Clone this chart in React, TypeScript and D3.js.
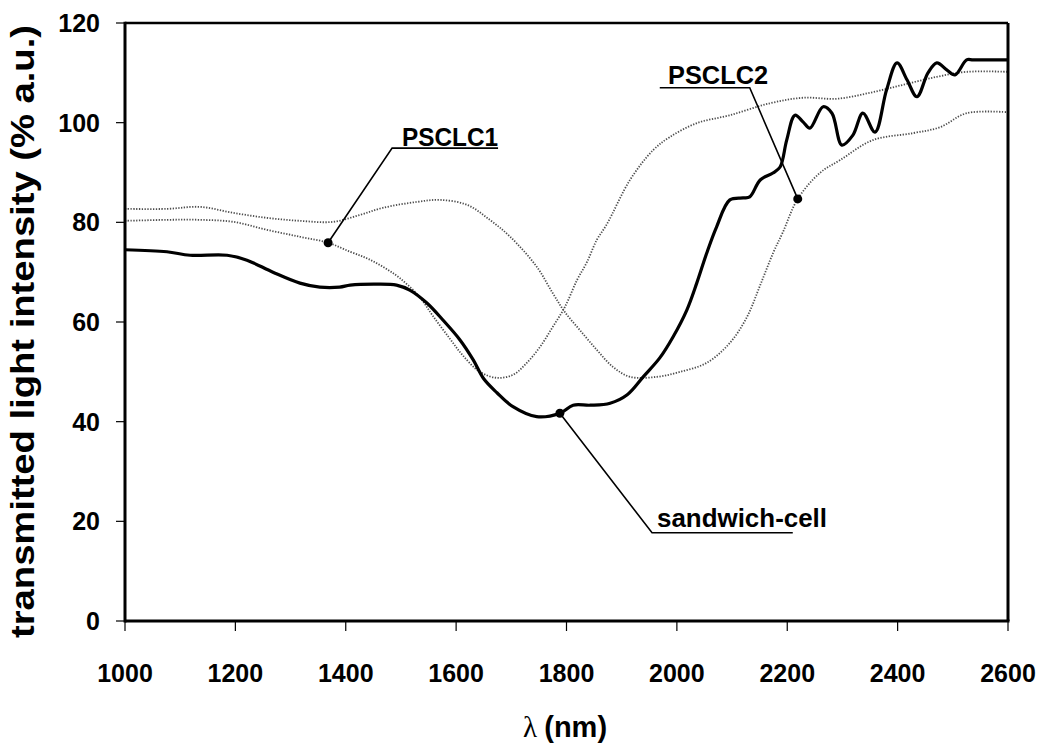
import React, { useEffect, useRef } from 'react';
import * as d3 from 'd3';

// wavelengths (nm) and transmitted intensity (% a.u.)
const sandwichLambda = [1000, 1076, 1118, 1185, 1221, 1268, 1317, 1353, 1389, 1408, 1456, 1492, 1516, 1547, 1576, 1607, 1631, 1650, 1674, 1703, 1746, 1788, 1812, 1843, 1879, 1910, 1939, 1969, 1993, 2018, 2036, 2054, 2072, 2096, 2120, 2132, 2151, 2174, 2187, 2199, 2214, 2229, 2241, 2265, 2281, 2299, 2319, 2337, 2359, 2380, 2399, 2417, 2435, 2455, 2471, 2489, 2504, 2525, 2537, 2600];
const sandwichValue = [74.5, 74.1, 73.4, 73.4, 72.4, 70.0, 67.8, 67.0, 67.0, 67.4, 67.6, 67.4, 66.4, 63.8, 60.4, 56.4, 52.4, 48.6, 45.8, 43.0, 41.0, 41.7, 43.3, 43.3, 43.7, 45.4, 49.0, 52.8, 57.0, 62.4, 67.8, 73.8, 79.1, 84.5, 84.9, 85.1, 88.5, 89.9, 91.1, 96.5, 101.5, 100.1, 98.9, 103.2, 101.9, 95.5, 97.5, 101.9, 98.1, 106.6, 112.0, 108.6, 105.2, 110.0, 112.0, 110.6, 109.6, 112.6, 112.6, 112.6];

const psclc1Lambda = [1000, 1076, 1136, 1196, 1257, 1317, 1368, 1408, 1438, 1467, 1498, 1534, 1558, 1589, 1612, 1643, 1674, 1703, 1728, 1752, 1775, 1797, 1819, 1837, 1855, 1873, 1915, 1957, 1987, 2036, 2096, 2169, 2229, 2290, 2350, 2410, 2471, 2525, 2600];
const psclc1Value = [80.3, 80.5, 80.5, 80.1, 78.5, 77.1, 75.9, 74.1, 72.8, 71.1, 68.8, 65.0, 61.2, 56.6, 53.3, 50.0, 48.8, 49.4, 51.8, 55.0, 59.0, 63.0, 68.4, 72.0, 76.5, 79.6, 88.5, 94.5, 97.1, 99.9, 101.5, 103.9, 105.0, 104.8, 106.0, 107.6, 109.2, 110.2, 110.2];

const psclc2Lambda = [1000, 1076, 1136, 1196, 1257, 1317, 1377, 1426, 1467, 1529, 1571, 1620, 1661, 1698, 1746, 1775, 1797, 1824, 1855, 1884, 1915, 1964, 2006, 2054, 2096, 2127, 2151, 2175, 2192, 2219, 2259, 2296, 2355, 2428, 2477, 2525, 2600];
const psclc2Value = [82.7, 82.7, 83.1, 81.9, 80.9, 80.3, 80.1, 81.5, 82.9, 84.1, 84.5, 83.5, 80.5, 77.1, 71.1, 65.8, 62.0, 58.4, 54.4, 51.0, 49.0, 49.0, 50.0, 51.8, 55.8, 61.0, 67.4, 74.0, 78.0, 84.7, 89.9, 92.5, 96.5, 97.9, 99.1, 101.9, 102.1];

const xTicks = [1000, 1200, 1400, 1600, 1800, 2000, 2200, 2400, 2600];
const yTicks = [0, 20, 40, 60, 80, 100, 120];

// callout labels: text, marker point, elbow, underline end, text start (all in data units)
const labelText = ['PSCLC1', 'PSCLC2', 'sandwich-cell'];
const labelAnchor = [[1368, 75.9], [2219, 84.7], [1788, 41.7]];
const labelElbow = [[1484, 94.9], [2132, 107.0], [1955, 17.7]];
const labelLineEnd = [[1676, 94.9], [1969, 107.0], [2210, 17.7]];
const labelPos = [[1502, 95.3], [1984, 107.7], [1964, 18.9]];
const labelWidth = [96, 100, 170];

const App = () => {
  const svgRef = useRef();

  useEffect(() => {
    const svg = d3.select(svgRef.current);
    svg.selectAll('*').remove();

    const x = d3.scaleLinear().domain([1000, 2600]).range([125, 1008]);
    const y = d3.scaleLinear().domain([0, 120]).range([621, 23]);
    const font = '"Liberation Sans", Arial, Helvetica, sans-serif';

    svg.append('rect').attr('width', 1042).attr('height', 752).attr('fill', '#fff');

    const line = d3.line()
      .x(d => x(d[0]))
      .y(d => y(d[1]))
      .curve(d3.curveCatmullRom.alpha(0.5));

    const series = [
      { lam: psclc2Lambda, val: psclc2Value, dotted: true },
      { lam: psclc1Lambda, val: psclc1Value, dotted: true },
      { lam: sandwichLambda, val: sandwichValue, dotted: false },
    ];

    series.forEach(s => {
      const pts = s.lam.map((l, i) => [l, s.val[i]]);
      const path = svg.append('path')
        .attr('d', line(pts))
        .attr('fill', 'none');
      if (s.dotted) {
        path.attr('stroke', '#4d4d4d')
          .attr('stroke-width', 1.8)
          .attr('stroke-dasharray', '1.3,1.5');
      } else {
        path.attr('stroke', '#000')
          .attr('stroke-width', 3.2)
          .attr('stroke-linejoin', 'round');
      }
    });

    // frame
    const [x0, x1] = x.range();
    const [yb, yt] = y.range();
    svg.append('line').attr('x1', x0).attr('x2', x1).attr('y1', yt).attr('y2', yt)
      .attr('stroke', '#000').attr('stroke-width', 2.5);
    svg.append('line').attr('x1', x1).attr('x2', x1).attr('y1', yt).attr('y2', yb)
      .attr('stroke', '#000').attr('stroke-width', 3);
    svg.append('line').attr('x1', x0).attr('x2', x1 + 1.5).attr('y1', yb).attr('y2', yb)
      .attr('stroke', '#000').attr('stroke-width', 3);
    svg.append('line').attr('x1', x0).attr('x2', x0).attr('y1', yt - 1.2).attr('y2', yb + 1.5)
      .attr('stroke', '#000').attr('stroke-width', 3);

    // y axis ticks and labels
    yTicks.forEach(t => {
      svg.append('line')
        .attr('x1', x0 - 9).attr('x2', x0)
        .attr('y1', y(t)).attr('y2', y(t))
        .attr('stroke', '#000').attr('stroke-width', 1.2);
      svg.append('text')
        .attr('x', 100).attr('y', y(t) + 9)
        .attr('text-anchor', 'end')
        .attr('font-family', font).attr('font-weight', 'bold').attr('font-size', 25)
        .text(t);
    });

    // x axis ticks and labels
    xTicks.forEach(t => {
      svg.append('line')
        .attr('x1', x(t)).attr('x2', x(t))
        .attr('y1', yb).attr('y2', yb + 10)
        .attr('stroke', '#000').attr('stroke-width', 1.2);
      svg.append('text')
        .attr('x', x(t)).attr('y', 682)
        .attr('text-anchor', 'middle')
        .attr('font-family', font).attr('font-weight', 'bold').attr('font-size', 25)
        .text(t);
    });

    // axis titles
    svg.append('text')
      .attr('transform', 'translate(34,331.5) rotate(-90)')
      .attr('text-anchor', 'middle')
      .attr('font-family', font).attr('font-weight', 'bold').attr('font-size', 33)
      .attr('textLength', 613).attr('lengthAdjust', 'spacingAndGlyphs')
      .text('transmitted light intensity (% a.u.)');

    const xt = svg.append('text')
      .attr('x', 565).attr('y', 737)
      .attr('text-anchor', 'middle')
      .attr('font-size', 29);
    xt.append('tspan')
      .attr('font-family', '"Liberation Serif", "DejaVu Serif", serif')
      .text('λ ');
    xt.append('tspan')
      .attr('font-family', font).attr('font-weight', 'bold')
      .text('(nm)');

    // callouts
    labelText.forEach((txt, i) => {
      const a = labelAnchor[i], e = labelElbow[i], u = labelLineEnd[i], p = labelPos[i];
      svg.append('polyline')
        .attr('points', [[x(a[0]), y(a[1])], [x(e[0]), y(e[1])], [x(u[0]), y(u[1])]].map(q => q.join(',')).join(' '))
        .attr('fill', 'none').attr('stroke', '#000').attr('stroke-width', 1.6);
      svg.append('circle')
        .attr('cx', x(a[0])).attr('cy', y(a[1])).attr('r', 4.5)
        .attr('fill', '#000');
      svg.append('text')
        .attr('x', x(p[0])).attr('y', y(p[1]))
        .attr('font-family', font).attr('font-weight', 'bold').attr('font-size', 26)
        .attr('textLength', labelWidth[i]).attr('lengthAdjust', 'spacingAndGlyphs')
        .text(txt);
    });
  }, []);

  return (
    <svg
      ref={svgRef}
      width={1042}
      height={752}
      style={{ position: 'absolute', left: 0, top: 0, display: 'block' }}
    />
  );
};

export default App;
